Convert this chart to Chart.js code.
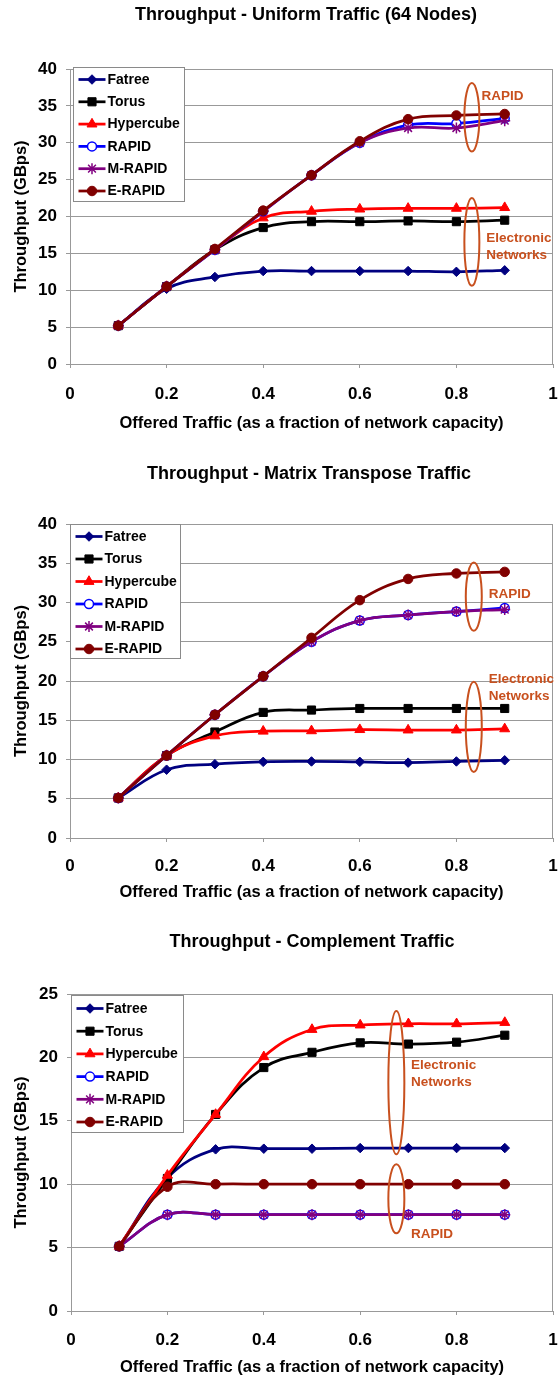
<!DOCTYPE html>
<html>
<head>
<meta charset="utf-8">
<script src="https://cdn.jsdelivr.net/npm/chart.js@4.4.0/dist/chart.umd.min.js"></script>
<style>
  html, body { margin: 0; padding: 0; background: #ffffff; }
  #wrap { position: relative; width: 560px; height: 1380px; }
  canvas { position: absolute; left: 0; }
</style>
</head>
<body>
<div id="wrap">
  <canvas id="uniform" width="560" height="460" style="top:0px"></canvas>
  <canvas id="transpose" width="560" height="460" style="top:460px"></canvas>
  <canvas id="complement" width="560" height="460" style="top:920px"></canvas>
</div>
<script>
// ---- data ----
const offeredLoad = [0.1, 0.2, 0.3, 0.4, 0.5, 0.6, 0.7, 0.8, 0.9];
const seriesNames = ['Fatree', 'Torus', 'Hypercube', 'RAPID', 'M-RAPID', 'E-RAPID'];
const xTickLabels = ['0', '0.2', '0.4', '0.6', '0.8', '1'];
const yTickLabels40 = ['0', '5', '10', '15', '20', '25', '30', '35', '40'];
const yTickLabels25 = ['0', '5', '10', '15', '20', '25'];

// Uniform traffic (64 nodes), GBps
const uniformFatree    = [5.2, 10.2, 11.8, 12.6, 12.6, 12.6, 12.6, 12.5, 12.7];
const uniformTorus     = [5.2, 10.5, 15.5, 18.5, 19.3, 19.3, 19.4, 19.3, 19.5];
const uniformHypercube = [5.2, 10.5, 15.5, 19.8, 20.7, 21.0, 21.1, 21.1, 21.2];
const uniformRapid     = [5.2, 10.5, 15.5, 20.7, 25.6, 30.0, 32.4, 32.6, 33.3];
const uniformMRapid    = [5.2, 10.5, 15.5, 20.7, 25.6, 30.0, 32.0, 32.0, 33.0];
const uniformERapid    = [5.2, 10.5, 15.6, 20.8, 25.6, 30.2, 33.2, 33.7, 33.9];

// Matrix transpose traffic, GBps
const transposeFatree    = [5.1, 8.7, 9.4, 9.7, 9.75, 9.7, 9.6, 9.75, 9.9];
const transposeTorus     = [5.1, 10.5, 13.5, 16.0, 16.3, 16.5, 16.5, 16.5, 16.5];
const transposeHypercube = [5.1, 10.5, 13.0, 13.6, 13.65, 13.8, 13.75, 13.75, 13.9];
const transposeRapid     = [5.1, 10.5, 15.7, 20.6, 25.0, 27.7, 28.4, 28.85, 29.3];
const transposeMRapid    = [5.1, 10.5, 15.7, 20.6, 25.0, 27.7, 28.4, 28.85, 29.1];
const transposeERapid    = [5.1, 10.5, 15.7, 20.6, 25.5, 30.3, 33.0, 33.7, 33.9];

// Complement traffic, GBps
const complementFatree    = [5.1, 10.5, 12.75, 12.8, 12.8, 12.85, 12.85, 12.85, 12.85];
const complementTorus     = [5.1, 10.45, 15.5, 19.2, 20.4, 21.15, 21.05, 21.2, 21.75];
const complementHypercube = [5.1, 10.7, 15.5, 20.05, 22.2, 22.55, 22.65, 22.65, 22.75];
const complementRapid     = [5.1, 7.6, 7.6, 7.6, 7.6, 7.6, 7.6, 7.6, 7.6];
const complementMRapid    = [5.1, 7.6, 7.6, 7.6, 7.6, 7.6, 7.6, 7.6, 7.6];
const complementERapid    = [5.1, 9.8, 10.0, 10.0, 10.0, 10.0, 10.0, 10.0, 10.0];

// ---- styling ----
const FONT = '"Liberation Sans", Arial, Helvetica, sans-serif';
const NOTE_COLOR = '#c8501e';
const GRID_COLOR = '#999999';
const LINE_WIDTH = 2.75;

const seriesStyles = [
  { color: '#000080', fill: '#000080', pointStyle: 'rectRot',  radius: 4.75, pbw: 1 },
  { color: '#000000', fill: '#000000', pointStyle: 'rect',     radius: 5.75, pbw: 1 },
  { color: '#ff0000', fill: '#ff0000', pointStyle: 'triangle', radius: 5.75, pbw: 1 },
  { color: '#0000ff', fill: '#ffffff', pointStyle: 'circle',   radius: 4.5,  pbw: 1.5 },
  { color: '#800080', fill: '#800080', pointStyle: 'star',     radius: 5.5,  pbw: 1.5 },
  { color: '#800000', fill: '#800000', pointStyle: 'circle',   radius: 4.75, pbw: 1 }
];

// fallback marker painter, used only if Chart.helpers is missing
function paintMarker(ctx, style, r, x, y) {
  ctx.beginPath();
  if (style === 'rectRot') {
    ctx.moveTo(x, y - r); ctx.lineTo(x + r, y); ctx.lineTo(x, y + r); ctx.lineTo(x - r, y); ctx.closePath();
  } else if (style === 'rect') {
    const s = r * Math.SQRT1_2; ctx.rect(x - s, y - s, 2 * s, 2 * s);
  } else if (style === 'triangle') {
    for (let k = 0; k < 3; k++) {
      const a = k * 2 * Math.PI / 3;
      const px = x + Math.sin(a) * r, py = y - Math.cos(a) * r;
      k ? ctx.lineTo(px, py) : ctx.moveTo(px, py);
    }
    ctx.closePath();
  } else if (style === 'star') {
    for (let k = 0; k < 4; k++) {
      const a = k * Math.PI / 4;
      ctx.moveTo(x - Math.cos(a) * r, y - Math.sin(a) * r);
      ctx.lineTo(x + Math.cos(a) * r, y + Math.sin(a) * r);
    }
  } else {
    ctx.arc(x, y, r, 0, Math.PI * 2);
  }
  ctx.fill();
  ctx.stroke();
}

function drawMarker(ctx, st, x, y) {
  ctx.save();
  ctx.fillStyle = st.fill;
  ctx.strokeStyle = st.color;
  ctx.lineWidth = st.pbw;
  if (Chart.helpers && Chart.helpers.drawPoint) {
    Chart.helpers.drawPoint(ctx, { pointStyle: st.pointStyle, radius: st.radius, rotation: 0, borderWidth: st.pbw }, x, y);
  } else {
    paintMarker(ctx, st.pointStyle, st.radius, x, y);
  }
  ctx.restore();
}

// plot frame, titles, legend and callouts
const framePlugin = {
  id: 'frameAndNotes',
  beforeDatasetsDraw(chart) {
    const { ctx, chartArea: a } = chart;
    ctx.save();
    ctx.strokeStyle = GRID_COLOR;
    ctx.lineWidth = 1;
    ctx.beginPath();
    ctx.moveTo(Math.round(a.right) - 0.5, a.top);
    ctx.lineTo(Math.round(a.right) - 0.5, a.bottom);
    ctx.stroke();
    ctx.restore();
  },
  afterDatasetsDraw(chart) {
    const { ctx, chartArea: a } = chart;
    const f = chart.options.plugins.frameAndNotes;
    const xs = chart.scales.x, ys = chart.scales.y;

    // legend box
    const lx = Math.round(a.left + f.legend.dx) + 0.5;
    const ly = Math.round(a.top + f.legend.dy) + 0.5;
    ctx.save();
    ctx.fillStyle = '#ffffff';
    ctx.strokeStyle = '#8a8a8a';
    ctx.lineWidth = 1;
    ctx.fillRect(lx, ly, f.legend.w, f.legend.h);
    ctx.strokeRect(lx, ly, f.legend.w, f.legend.h);
    ctx.font = 'bold 14px ' + FONT;
    ctx.textBaseline = 'middle';
    ctx.textAlign = 'left';
    chart.data.datasets.forEach((ds, i) => {
      const st = seriesStyles[i];
      const ry = ly + f.legend.row0 + i * f.legend.gap;
      ctx.strokeStyle = st.color;
      ctx.lineWidth = LINE_WIDTH;
      ctx.beginPath();
      ctx.moveTo(lx + 5, ry);
      ctx.lineTo(lx + 32, ry);
      ctx.stroke();
      drawMarker(ctx, st, lx + 18.5, ry);
      ctx.fillStyle = '#000000';
      ctx.fillText(ds.label, lx + 34, ry + 0.5);
    });
    ctx.restore();

    // callout ellipses and labels
    ctx.save();
    ctx.strokeStyle = NOTE_COLOR;
    ctx.lineWidth = 2;
    f.ellipses.forEach(e => {
      const cx = xs.getPixelForValue(e.x);
      const y1 = ys.getPixelForValue(e.top), y2 = ys.getPixelForValue(e.bottom);
      ctx.beginPath();
      ctx.ellipse(cx, (y1 + y2) / 2, e.rx, Math.abs(y2 - y1) / 2, 0, 0, Math.PI * 2);
      ctx.stroke();
    });
    ctx.fillStyle = NOTE_COLOR;
    ctx.font = 'bold 13.5px ' + FONT;
    ctx.textAlign = 'left';
    ctx.textBaseline = 'middle';
    f.labels.forEach(l => {
      ctx.fillText(l.text, xs.getPixelForValue(l.x), ys.getPixelForValue(l.y));
    });
    ctx.restore();
  },
  afterDraw(chart) {
    const { ctx } = chart;
    const f = chart.options.plugins.frameAndNotes;
    ctx.save();
    ctx.fillStyle = '#000000';
    ctx.font = 'bold 18px ' + FONT;
    ctx.textAlign = 'center';
    ctx.textBaseline = 'middle';
    ctx.fillText(f.title, f.titleX, f.titleY);
    ctx.restore();
  }
};

function buildChart(id, title, values, yMax, yLabels, frame, notes) {
  const H = 460;
  const datasets = values.map((vals, i) => {
    const st = seriesStyles[i];
    return {
      label: seriesNames[i],
      data: offeredLoad.map((x, k) => ({ x: x, y: vals[k] })),
      borderColor: st.color,
      backgroundColor: st.fill,
      borderWidth: LINE_WIDTH,
      pointStyle: st.pointStyle,
      pointRadius: st.radius,
      pointBackgroundColor: st.fill,
      pointBorderColor: st.color,
      pointBorderWidth: st.pbw,
      tension: 0.4,
      order: seriesNames.length - i,
      clip: false
    };
  });

  const tickFont = { family: FONT, size: 17, weight: 'bold' };
  const axisTitleFont = { family: FONT, size: 16.5, weight: 'bold' };
  const axisHalfLine = 16.5 * 1.2 / 2;

  return new Chart(document.getElementById(id), {
    type: 'line',
    data: { datasets },
    plugins: [framePlugin],
    options: {
      responsive: false,
      animation: false,
      devicePixelRatio: 1,
      layout: { padding: { top: frame.top, left: 0, right: 560 - frame.right, bottom: 0 } },
      plugins: {
        legend: { display: false },
        title: { display: false },
        tooltip: { enabled: false },
        frameAndNotes: Object.assign({ title: title }, frame, notes)
      },
      scales: {
        x: {
          type: 'linear',
          min: 0, max: 1,
          ticks: {
            stepSize: 0.2,
            autoSkip: false,
            maxRotation: 0,
            color: '#000000',
            font: tickFont,
            padding: frame.tickY - frame.bottom - 4 - 10.2,
            callback: (v, i) => xTickLabels[i]
          },
          grid: { display: true, drawOnChartArea: false, drawTicks: true, tickLength: 4, color: GRID_COLOR },
          border: { display: true, color: GRID_COLOR, width: 1 },
          title: {
            display: true,
            text: 'Offered Traffic (as a fraction of network capacity)',
            color: '#000000',
            font: axisTitleFont,
            padding: { top: 0, bottom: H - axisHalfLine - frame.xTitleY }
          },
          afterFit(s) {
            s.height = H - frame.bottom;
            s.paddingLeft = 0;
            s.paddingRight = 0;
          }
        },
        y: {
          type: 'linear',
          min: 0, max: yMax,
          ticks: {
            stepSize: 5,
            color: '#000000',
            font: tickFont,
            padding: 9,
            callback: (v, i) => yLabels[i]
          },
          grid: { color: GRID_COLOR, lineWidth: 1, drawTicks: true, tickLength: 4 },
          border: { display: true, color: GRID_COLOR, width: 1 },
          title: {
            display: true,
            text: 'Throughput (GBps)',
            color: '#000000',
            font: axisTitleFont,
            padding: { top: frame.yTitleX - axisHalfLine, bottom: 0 }
          },
          afterFit(s) {
            s.width = frame.left;
            s.paddingTop = 0;
            s.paddingBottom = 0;
          }
        }
      }
    }
  });
}

buildChart('uniform', 'Throughput - Uniform Traffic (64 Nodes)',
  [uniformFatree, uniformTorus, uniformHypercube, uniformRapid, uniformMRapid, uniformERapid],
  40, yTickLabels40,
  { titleX: 306, titleY: 15, top: 69, left: 70, right: 557, bottom: 364, tickY: 394, xTitleY: 423, yTitleX: 21,
    legend: { dx: 3, dy: -2, w: 111, h: 134, row0: 12, gap: 22.3 } },
  { ellipses: [ { x: 0.832, top: 38.1, bottom: 28.8, rx: 7.5 }, { x: 0.832, top: 22.5, bottom: 10.6, rx: 7.5 } ],
    labels: [ { text: 'RAPID', x: 0.852, y: 36.3 }, { text: 'Electronic', x: 0.862, y: 17.0 }, { text: 'Networks', x: 0.862, y: 14.8 } ] });

buildChart('transpose', 'Throughput - Matrix Transpose Traffic',
  [transposeFatree, transposeTorus, transposeHypercube, transposeRapid, transposeMRapid, transposeERapid],
  40, yTickLabels40,
  { titleX: 309, titleY: 14, top: 64, left: 70, right: 557, bottom: 378, tickY: 406, xTitleY: 432, yTitleX: 21,
    legend: { dx: 0, dy: 0, w: 110, h: 134, row0: 12, gap: 22.5 } },
  { ellipses: [ { x: 0.836, top: 35.1, bottom: 26.4, rx: 8 }, { x: 0.836, top: 19.9, bottom: 8.4, rx: 8 } ],
    labels: [ { text: 'RAPID', x: 0.867, y: 31.0 }, { text: 'Electronic', x: 0.867, y: 20.25 }, { text: 'Networks', x: 0.867, y: 18.1 } ] });

buildChart('complement', 'Throughput - Complement Traffic',
  [complementFatree, complementTorus, complementHypercube, complementRapid, complementMRapid, complementERapid],
  25, yTickLabels25,
  { titleX: 312, titleY: 22, top: 74, left: 71, right: 557, bottom: 391, tickY: 420, xTitleY: 447, yTitleX: 21,
    legend: { dx: 0, dy: 1, w: 112, h: 137, row0: 13, gap: 22.7 } },
  { ellipses: [ { x: 0.675, top: 23.66, bottom: 12.36, rx: 8 }, { x: 0.675, top: 11.57, bottom: 6.13, rx: 8 } ],
    labels: [ { text: 'Electronic', x: 0.7055, y: 19.35 }, { text: 'Networks', x: 0.7055, y: 18.0 }, { text: 'RAPID', x: 0.7055, y: 6.05 } ] });
</script>
</body>
</html>
